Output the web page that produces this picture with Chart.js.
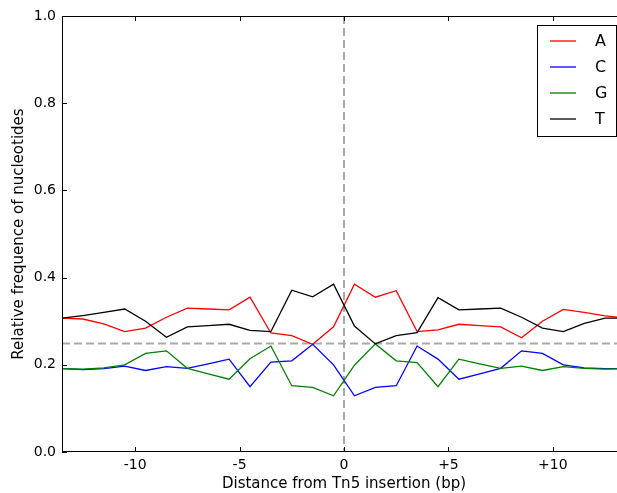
<!DOCTYPE html>
<html>
<head>
<meta charset="utf-8">
<script src="https://cdn.jsdelivr.net/npm/chart.js@4.4.1/dist/chart.umd.min.js"></script>
<style>
  html, body { margin: 0; padding: 0; background: #fff; overflow: hidden; }
  #wrap { position: absolute; left: 0; top: 0; width: 640px; height: 493px; }
</style>
</head>
<body>
<div id="wrap"><canvas id="c" width="640" height="493"></canvas></div>
<script>
// Position relative to the Tn5 insertion site (bp)
const positions = [-13.5, -12.5, -11.5, -10.5, -9.5, -8.5, -7.5, -6.5, -5.5, -4.5, -3.5, -2.5, -1.5, -0.5,
                   0.5, 1.5, 2.5, 3.5, 4.5, 5.5, 6.5, 7.5, 8.5, 9.5, 10.5, 11.5, 12.5, 13.5];

// Relative nucleotide frequencies at each position
const freqA = [0.307, 0.305, 0.294, 0.276, 0.284, 0.309, 0.330, 0.328, 0.326, 0.355, 0.273, 0.267, 0.247, 0.287,
               0.385, 0.355, 0.370, 0.276, 0.280, 0.293, 0.290, 0.287, 0.262, 0.300, 0.327, 0.320, 0.312, 0.307];
const freqC = [0.191, 0.189, 0.191, 0.197, 0.187, 0.196, 0.192, 0.202, 0.213, 0.150, 0.206, 0.209, 0.247, 0.200,
               0.129, 0.148, 0.152, 0.243, 0.213, 0.167, 0.179, 0.192, 0.232, 0.226, 0.200, 0.193, 0.191, 0.191];
const freqG = [0.191, 0.190, 0.193, 0.200, 0.226, 0.232, 0.192, 0.179, 0.167, 0.214, 0.243, 0.152, 0.148, 0.129,
               0.199, 0.248, 0.209, 0.205, 0.150, 0.213, 0.202, 0.192, 0.197, 0.187, 0.196, 0.192, 0.190, 0.191];
const freqT = [0.307, 0.313, 0.320, 0.328, 0.300, 0.263, 0.287, 0.290, 0.293, 0.279, 0.276, 0.371, 0.356, 0.385,
               0.289, 0.248, 0.267, 0.274, 0.354, 0.326, 0.328, 0.330, 0.309, 0.284, 0.276, 0.295, 0.307, 0.307];

const nucleotides = ['A', 'C', 'G', 'T'];
const seriesColors = ['#ff0000', '#0000ff', '#008000', '#000000'];

// Tick values and their labels
const xTickValues = [-10, -5, 0, 5, 10];
const xTickLabels = ['-10', '-5', '0', '+5', '+10'];
const yTickValues = [0.0, 0.2, 0.4, 0.6, 0.8, 1.0];

// Reference lines: background frequency and the insertion site
const backgroundFreq = 0.25;
const insertionSite = 0;

const FONT = '"DejaVu Sans", "Liberation Sans", sans-serif';

function toPoints(vals) {
  return positions.map((p, i) => ({ x: p, y: vals[i] }));
}

const seriesValues = [freqA, freqC, freqG, freqT];
const datasets = nucleotides.map((n, i) => ({
  label: n,
  data: toPoints(seriesValues[i]),
  borderColor: seriesColors[i],
  backgroundColor: seriesColors[i],
  borderWidth: 1.3,
  pointRadius: 0,
  tension: 0,
  fill: false,
  order: nucleotides.length - 1 - i
}));

// Dashed reference lines drawn under the series
const refLines = {
  id: 'refLines',
  beforeDatasetsDraw(chart) {
    const { ctx, chartArea: a, scales: { x, y } } = chart;
    ctx.save();
    ctx.beginPath();
    ctx.rect(a.left, a.top, a.right - a.left, a.bottom - a.top);
    ctx.clip();
    ctx.strokeStyle = '#a9a9a9';
    ctx.lineWidth = 2;
    ctx.setLineDash([8, 4]);
    const yy = Math.round(y.getPixelForValue(backgroundFreq)) + 0.5;
    ctx.beginPath();
    ctx.moveTo(a.left, yy);
    ctx.lineTo(a.right, yy);
    ctx.stroke();
    const xx = Math.round(x.getPixelForValue(insertionSite));
    ctx.beginPath();
    ctx.moveTo(xx, a.top);
    ctx.lineTo(xx, a.bottom);
    ctx.stroke();
    ctx.restore();
  }
};

// Axes frame with inward tick marks, and the boxed legend in the upper right
const frameAndLegend = {
  id: 'frameAndLegend',
  afterDraw(chart) {
    const { ctx, chartArea: a, scales: { x, y } } = chart;
    ctx.save();
    ctx.strokeStyle = '#000';
    ctx.lineWidth = 1;
    ctx.strokeRect(a.left + 0.5, a.top + 0.5, a.right - a.left - 1, a.bottom - a.top - 1);
    const tl = 5;
    ctx.beginPath();
    yTickValues.forEach(v => {
      const py = Math.round(y.getPixelForValue(v)) + 0.5;
      ctx.moveTo(a.left, py); ctx.lineTo(a.left + tl, py);
      ctx.moveTo(a.right, py); ctx.lineTo(a.right - tl, py);
    });
    xTickValues.forEach(v => {
      const px = Math.round(x.getPixelForValue(v)) + 0.5;
      ctx.moveTo(px, a.bottom); ctx.lineTo(px, a.bottom - tl);
      ctx.moveTo(px, a.top); ctx.lineTo(px, a.top + tl);
    });
    ctx.stroke();

    // legend box
    const bw = 79, bh = 111;
    const bx = a.right - 10 - bw, by = a.top + 9;
    ctx.fillStyle = '#fff';
    ctx.fillRect(bx, by, bw, bh);
    ctx.strokeStyle = '#000';
    ctx.lineWidth = 1;
    ctx.strokeRect(bx + 0.5, by + 0.5, bw, bh);
    ctx.font = '16px ' + FONT;
    ctx.textBaseline = 'middle';
    ctx.textAlign = 'left';
    chart.data.datasets.forEach((ds, i) => {
      const ry = by + 16 + i * 26;
      ctx.strokeStyle = ds.borderColor;
      ctx.lineWidth = 1.3;
      ctx.beginPath();
      ctx.moveTo(bx + 13, ry);
      ctx.lineTo(bx + 39, ry);
      ctx.stroke();
      ctx.fillStyle = '#000';
      ctx.fillText(ds.label, bx + 58, ry + 1);
    });
    ctx.restore();
  }
};

new Chart(document.getElementById('c'), {
  type: 'line',
  data: { datasets },
  options: {
    responsive: false,
    animation: false,
    devicePixelRatio: 1,
    layout: { padding: { top: 16, right: 14, left: 0, bottom: 0 } },
    plugins: { legend: { display: false }, tooltip: { enabled: false } },
    scales: {
      x: {
        type: 'linear',
        min: -13.5,
        max: 13.5,
        afterBuildTicks(scale) { scale.ticks = xTickValues.map(v => ({ value: v })); },
        afterFit(scale) { scale.height = 41; },
        grid: { display: false, drawTicks: false },
        border: { display: false },
        ticks: {
          padding: 5,
          color: '#000',
          font: { family: FONT, size: 14 },
          maxRotation: 0,
          autoSkip: false,
          callback: (v) => xTickLabels[xTickValues.indexOf(v)]
        },
        title: {
          display: true,
          text: 'Distance from Tn5 insertion (bp)',
          color: '#000',
          font: { family: FONT, size: 15 },
          padding: { top: 0, bottom: 0 }
        }
      },
      y: {
        type: 'linear',
        min: 0,
        max: 1,
        afterBuildTicks(scale) { scale.ticks = yTickValues.map(v => ({ value: v })); },
        afterFit(scale) { scale.width = 62; },
        grid: { display: false, drawTicks: false },
        border: { display: false },
        ticks: {
          padding: 6,
          color: '#000',
          font: { family: FONT, size: 14 },
          callback: (v) => v.toFixed(1)
        },
        title: {
          display: true,
          text: 'Relative frequence of nucleotides',
          color: '#000',
          font: { family: FONT, size: 15 },
          padding: { top: 10, bottom: 0 }
        }
      }
    }
  },
  plugins: [refLines, frameAndLegend]
});
</script>
</body>
</html>
